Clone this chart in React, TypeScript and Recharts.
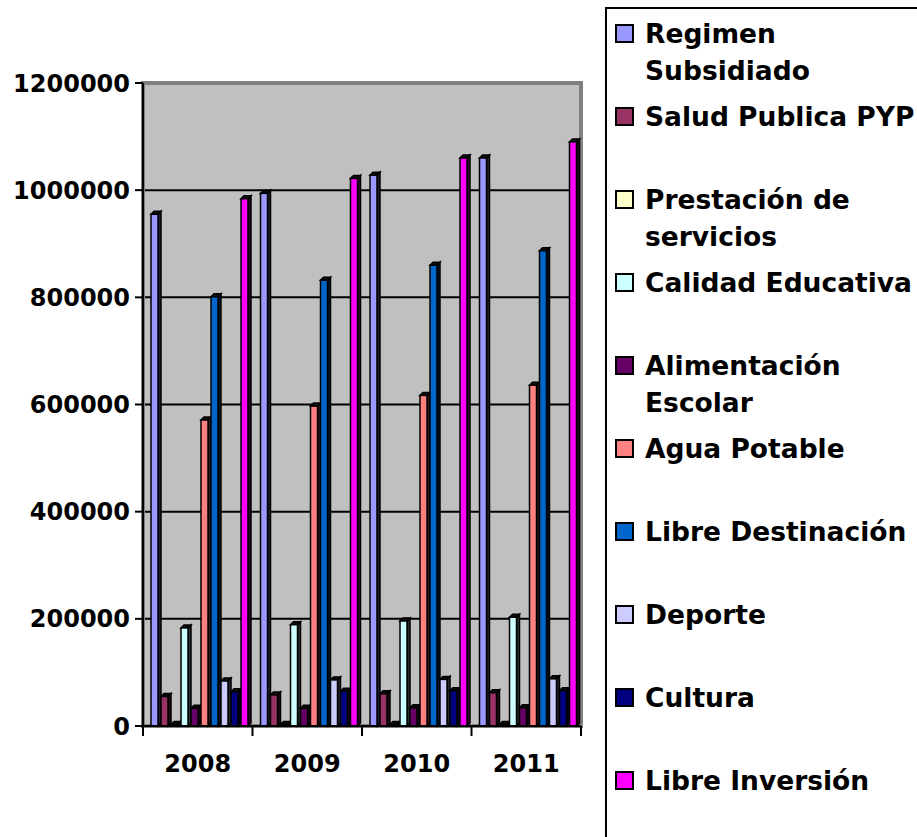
import { BarChart, Bar, XAxis, YAxis, CartesianGrid, ReferenceArea } from "recharts";

const years = ["2008", "2009", "2010", "2011"];

const regimenSubsidiado = [955000, 994000, 1028000, 1060000];
const saludPublica = [55000, 58000, 60000, 62000];
const prestacionServicios = [3000, 3000, 3000, 3000];
const calidadEducativa = [183000, 189000, 196000, 203000];
const alimentacionEscolar = [33000, 33000, 34000, 34000];
const aguaPotable = [571000, 597000, 617000, 636000];
const libreDestinacion = [801000, 832000, 860000, 887000];
const deporte = [84000, 86000, 87000, 88000];
const cultura = [64000, 65000, 66000, 66000];
const libreInversion = [984000, 1022000, 1060000, 1090000];

const yTicks = [0, 200000, 400000, 600000, 800000, 1000000, 1200000];
const gridValues = [200000, 400000, 600000, 800000, 1000000];

const series = [
  { key: "rs", name: "Regimen Subsidiado", color: "#9999FF", values: regimenSubsidiado },
  { key: "sp", name: "Salud Publica PYP", color: "#993366", values: saludPublica },
  { key: "ps", name: "Prestación de servicios", color: "#FFFFCC", values: prestacionServicios },
  { key: "ce", name: "Calidad Educativa", color: "#CCFFFF", values: calidadEducativa },
  { key: "ae", name: "Alimentación Escolar", color: "#660066", values: alimentacionEscolar },
  { key: "ap", name: "Agua Potable", color: "#FF8080", values: aguaPotable },
  { key: "ld", name: "Libre Destinación", color: "#0066CC", values: libreDestinacion },
  { key: "dep", name: "Deporte", color: "#CCCCFF", values: deporte },
  { key: "cul", name: "Cultura", color: "#000080", values: cultura },
  { key: "li", name: "Libre Inversión", color: "#FF00FF", values: libreInversion },
];

const data = years.map((year, i) => {
  const row: Record<string, string | number> = { year };
  series.forEach((s) => (row[s.key] = s.values[i]));
  return row;
});

const FONT = "'DejaVu Sans', sans-serif";
const PLOT_LEFT = 143;
const PLOT_RIGHT = 581;
const halfBand = (PLOT_RIGHT - PLOT_LEFT) / years.length / 2;

function shade(hex: string, f: number) {
  const n = parseInt(hex.slice(1), 16);
  const r = Math.round(((n >> 16) & 255) * f);
  const g = Math.round(((n >> 8) & 255) * f);
  const b = Math.round((n & 255) * f);
  return `rgb(${r},${g},${b})`;
}

// excel-ish 3d column: front face, dark side and top
const Bar3D = (props: any) => {
  const { x, y, width, height, fill } = props;
  if (height == null || width == null) return null;
  const d = 3;
  const fx = x + 2;
  const fw = Math.max(width - d, 1);
  const h = Math.max(height, 1);
  const dark = shade(fill, 0.2);
  return (
    <g>
      <polygon
        points={`${fx + fw},${y} ${fx + fw + d},${y - d} ${fx + fw + d},${y + h - d} ${fx + fw},${y + h}`}
        fill={dark}
        stroke="#000"
        strokeWidth={1.5}
      />
      <polygon
        points={`${fx},${y} ${fx + d},${y - d} ${fx + fw + d},${y - d} ${fx + fw},${y}`}
        fill="#111"
        stroke="#000"
        strokeWidth={1.5}
      />
      <rect x={fx} y={y} width={fw} height={h} fill={fill} stroke="#000" strokeWidth={1.5} />
    </g>
  );
};

const YearTick = ({ x, y, payload, index }: any) => (
  <g>
    <line x1={x - halfBand} x2={x - halfBand} y1={y} y2={y + 10} stroke="#000" strokeWidth={2} />
    {index === years.length - 1 && (
      <line x1={x + halfBand} x2={x + halfBand} y1={y} y2={y + 10} stroke="#000" strokeWidth={2} />
    )}
    <text
      x={x}
      y={y + 46}
      textAnchor="middle"
      fill="#000"
      style={{ fontFamily: FONT, fontWeight: "bold", fontSize: 24 }}
    >
      {payload.value}
    </text>
  </g>
);

export default function App() {
  return (
    <div
      style={{
        position: "fixed",
        left: 0,
        top: 0,
        width: 917,
        height: 837,
        overflow: "hidden",
        background: "#fff",
      }}
    >
      <BarChart
        width={600}
        height={837}
        data={data}
        margin={{ top: 83, right: 19, bottom: 71, left: 0 }}
        barCategoryGap={6}
        barGap={0}
      >
        <CartesianGrid
          vertical={false}
          fill="#C0C0C0"
          fillOpacity={1}
          stroke="#000"
          strokeWidth={2}
          horizontalValues={gridValues}
        />
        <ReferenceArea y1={0} y2={1200000} fill="none" stroke="#808080" strokeWidth={4} />
        <XAxis
          dataKey="year"
          height={40}
          tickSize={0}
          tickMargin={0}
          tickLine={false}
          axisLine={{ stroke: "#000", strokeWidth: 2 }}
          tick={<YearTick />}
          interval={0}
        />
        <YAxis
          width={143}
          domain={[0, 1200000]}
          ticks={yTicks}
          interval={0}
          tickSize={8}
          tickMargin={5}
          axisLine={{ stroke: "#000", strokeWidth: 2 }}
          tickLine={{ stroke: "#000", strokeWidth: 2 }}
          tick={{ fill: "#000", fontFamily: FONT, fontWeight: "bold", fontSize: 24 }}
          tickFormatter={(v: number) => String(v)}
        />
        {series.map((s) => (
          <Bar
            key={s.key}
            dataKey={s.key}
            name={s.name}
            fill={s.color}
            shape={<Bar3D />}
            isAnimationActive={false}
          />
        ))}
      </BarChart>
      <div
        style={{
          position: "absolute",
          left: 605,
          top: 7,
          width: 330,
          height: 860,
          border: "2px solid #000",
          boxSizing: "border-box",
        }}
      >
        {series.map((s, i) => (
          <div
            key={s.key}
            style={{
              position: "absolute",
              left: 8,
              top: 6 + i * 83,
              display: "flex",
              alignItems: "flex-start",
            }}
          >
            <div
              style={{
                width: 15,
                height: 15,
                marginTop: 9,
                background: s.color,
                border: "2px solid #000",
                flex: "none",
              }}
            />
            <div
              style={{
                marginLeft: 11,
                width: 282,
                fontFamily: FONT,
                fontWeight: "bold",
                fontSize: 26.5,
                lineHeight: "37px",
                color: "#000",
              }}
            >
              {s.name}
            </div>
          </div>
        ))}
      </div>
    </div>
  );
}
